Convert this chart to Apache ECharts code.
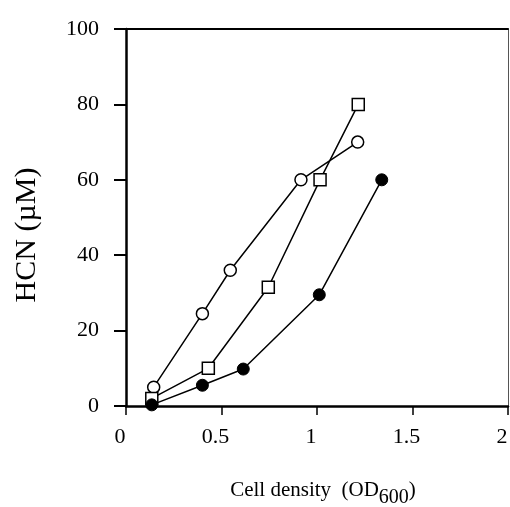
<!DOCTYPE html>
<html>
<head>
<meta charset="utf-8">
<script src="https://cdn.jsdelivr.net/npm/echarts@6/dist/echarts.min.js"></script>
<style>
  html, body { margin: 0; padding: 0; background: #fff; }
  #container { width: 510px; height: 507px; }
</style>
</head>
<body>
<div id="container"></div>
<script>
// values
var openCircleX = [0.145, 0.40, 0.546, 0.916, 1.213];
var openCircleY = [5, 24.5, 36, 60, 70];
var squareX = [0.135, 0.431, 0.745, 1.016, 1.216];
var squareY = [2, 10, 31.5, 60, 80];
var filledX = [0.135, 0.40, 0.614, 1.012, 1.339];
var filledY = [0.3, 5.5, 9.8, 29.5, 60];

function pairs(xs, ys) {
    var out = [];
    for (var i = 0; i < xs.length; i++) out.push([xs[i], ys[i]]);
    return out;
}

var serif = '"Liberation Serif", "Times New Roman", serif';

var dom = document.getElementById("container");
var myChart = echarts.init(dom);
var option = {
    animation: false,
    backgroundColor: '#fff',
    grid: {
        left: 126,
        right: 2,
        top: 29,
        bottom: 101,
        outerBoundsMode: 'none'
    },
    xAxis: [{
        type: 'value',
        min: 0,
        max: 2,
        interval: 0.5,
        splitLine: { show: false },
        axisLine: { onZero: false, lineStyle: { color: '#000', width: 2.5 } },
        axisTick: { length: 9, lineStyle: { color: '#000', width: 1.5 } },
        axisLabel: {
            color: '#000',
            fontFamily: serif,
            fontSize: 22,
            margin: 20,
            padding: [0, 12, 0, 0]
        },
        name: '{a|Cell density  (OD}{s|600}{a|)}',
        nameLocation: 'middle',
        nameGap: 74,
        nameTextStyle: {
            padding: [0, 0, 0, 12],
            rich: {
                a: { fontFamily: serif, fontSize: 21, color: '#000', verticalAlign: 'top', lineHeight: 28 },
                s: { fontFamily: serif, fontSize: 20, color: '#000', verticalAlign: 'bottom', lineHeight: 28, padding: [10, 0, 0, 0] }
            }
        }
    }, {
        type: 'value',
        position: 'top',
        min: 0,
        max: 2,
        axisLine: { show: true, onZero: false, lineStyle: { color: '#000', width: 2 } },
        axisTick: { show: false },
        axisLabel: { show: false },
        splitLine: { show: false }
    }],
    yAxis: [{
        type: 'value',
        min: 0,
        max: 100,
        interval: 20,
        splitLine: { show: false },
        axisLine: { show: true, onZero: false, lineStyle: { color: '#000', width: 2.5 } },
        axisTick: { length: 12, lineStyle: { color: '#000', width: 2 } },
        axisLabel: {
            color: '#000',
            fontFamily: serif,
            fontSize: 22,
            margin: 27
        },
        name: 'HCN (µM)',
        nameLocation: 'middle',
        nameRotate: 90,
        nameGap: 84,
        nameTextStyle: {
            color: '#000',
            fontFamily: serif,
            fontSize: 30,
            padding: [0, 35, 0, 0]
        }
    }, {
        type: 'value',
        position: 'right',
        min: 0,
        max: 100,
        axisLine: { show: true, onZero: false, lineStyle: { color: '#555', width: 1 } },
        axisTick: { show: false },
        axisLabel: { show: false },
        splitLine: { show: false }
    }],
    series: [
        {
            name: 'open circle',
            type: 'line',
            data: pairs(openCircleX, openCircleY),
            symbol: 'circle',
            symbolSize: 12,
            lineStyle: { color: '#000', width: 1.5 },
            itemStyle: { color: '#fff', borderColor: '#000', borderWidth: 1.5 },
            z: 3
        },
        {
            name: 'square',
            type: 'line',
            data: pairs(squareX, squareY),
            symbol: 'rect',
            symbolSize: 12,
            lineStyle: { color: '#000', width: 1.5 },
            itemStyle: { color: '#fff', borderColor: '#000', borderWidth: 1.5 },
            z: 3
        },
        {
            name: 'filled circle',
            type: 'line',
            data: pairs(filledX, filledY),
            symbol: 'circle',
            symbolSize: 12,
            lineStyle: { color: '#000', width: 1.5 },
            itemStyle: { color: '#000', borderColor: '#000', borderWidth: 1 },
            z: 3
        }
    ]
};
if (option && typeof option === "object") {
    myChart.setOption(option, true);
}
</script>
</body>
</html>
